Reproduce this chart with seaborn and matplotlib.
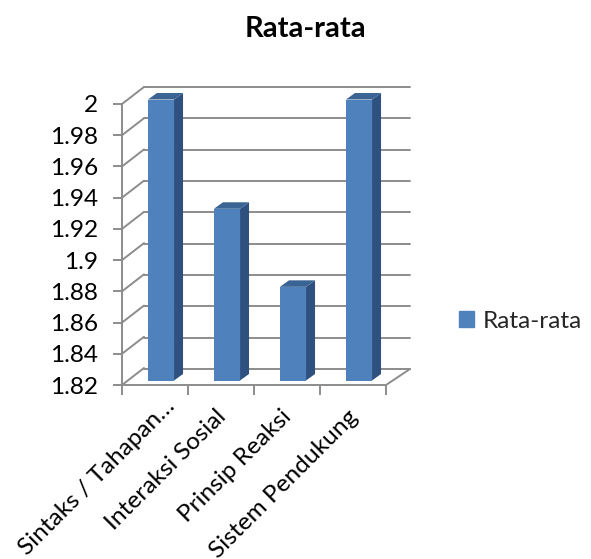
import matplotlib
matplotlib.use("Agg")
import matplotlib.pyplot as plt
import numpy as np
import pandas as pd
import seaborn as sns
from matplotlib.patches import Polygon, Patch

categories = ["Sintaks / Tahapan…", "Interaksi Sosial", "Prinsip Reaksi", "Sistem Pendukung"]
values = [2.0, 1.93, 1.88, 2.0]
y_ticks = [1.82, 1.84, 1.86, 1.88, 1.9, 1.92, 1.94, 1.96, 1.98, 2]
y_tick_labels = ["1.82", "1.84", "1.86", "1.88", "1.9", "1.92", "1.94", "1.96", "1.98", "2"]
series_name = "Rata-rata"

W, H = 591, 559
FONT = "Lato"
GRID = "#8c8c8c"
FACE = "#4f81bd"
SIDE = "#2f5180"
TOP = "#3a6494"
LINE = 1.4
LABEL_SIZE = 17.6

sns.set_theme(style="white")
plt.rcParams["font.family"] = [FONT, "DejaVu Sans"]

fig = plt.figure(figsize=(W / 100, H / 100), dpi=100, facecolor="white")


def plane_axes(left, top, right, bottom, **kw):
    """Axes placed by pixel edges, sharing one value and category scale."""
    a = fig.add_axes([left / W, 1 - bottom / H, (right - left) / W, (bottom - top) / H], **kw)
    a.set_xlim(-0.5, len(categories) - 0.5)
    a.set_ylim(y_ticks[0], y_ticks[-1])
    a.patch.set_alpha(0)
    return a


# Front plane: holds the axis lines and tick labels
L, T, R, B = 122, 104, 386, 385
ax = plane_axes(L, T, R, B, zorder=2)
px_x = len(categories) / (R - L)
px_y = (y_ticks[-1] - y_ticks[0]) / (B - T)

# Back wall carrying the horizontal gridlines
wall = plane_axes(L + 22, T - 17, R + 24, B - 16, zorder=1)
wall.set_xticks([])
wall.set_yticks(y_ticks)
wall.tick_params(left=False, labelleft=False)
wall.grid(True, axis="y", color=GRID, lw=LINE, clip_on=False)
for s in wall.spines.values():
    s.set_visible(False)

# Slanted lines joining the front axis to the wall
x0, x1 = ax.get_xlim()
for v in y_ticks:
    ax.plot([x0, x0 + 22 * px_x], [v, v + 17 * px_y], color=GRID, lw=LINE, clip_on=False,
            solid_capstyle="round")
ax.plot([x1, x1 + 24 * px_x], [y_ticks[0], y_ticks[0] + 16 * px_y], color=GRID, lw=LINE,
        clip_on=False, solid_capstyle="round")

ax.set_yticks(y_ticks)
ax.set_yticklabels(y_tick_labels, fontsize=LABEL_SIZE, color="black")
ax.set_xticks(np.arange(len(categories) + 1) - 0.5)
ax.set_xticklabels([])
ax.tick_params(axis="y", which="major", length=6.5, width=LINE, color=GRID, left=True, pad=11)
ax.tick_params(axis="x", which="major", length=7, width=LINE, color=GRID, bottom=True)
for name in ("top", "right"):
    ax.spines[name].set_visible(False)
for name in ("left", "bottom"):
    ax.spines[name].set_color(GRID)
    ax.spines[name].set_linewidth(LINE)

# Category names hang at 45 degrees below each slot; the shortened first name sits higher
for i, name in enumerate(categories):
    offset = (9, -10) if name.endswith("…") else (-6, -21)
    ax.annotate(name, xy=(i, y_ticks[0]), xytext=offset, textcoords="offset pixels",
                rotation=45, ha="right", va="top", rotation_mode="anchor",
                fontsize=LABEL_SIZE, color="black", annotation_clip=False)

# Bar plane sits a little behind the front axis
bars = plane_axes(L + 6, T - 4.5, R + 6, B - 4.5, zorder=3)
df = pd.DataFrame({"category": categories, "value": values})
sns.barplot(data=df, x="category", y="value", color=FACE, saturation=1, width=0.395, ax=bars,
            edgecolor="none", linewidth=0)
bars.set_xlim(-0.5, len(categories) - 0.5)
bars.set_ylim(y_ticks[0], y_ticks[-1])
bars.axis("off")

# Depth faces on each bar
dx, dy = 9 * px_x, 6.5 * px_y
for p, v in list(zip(bars.patches, values)):
    a, b = p.get_x(), p.get_x() + p.get_width()
    base = y_ticks[0]
    bars.add_patch(Polygon([(b, base), (b + dx, base + dy), (b + dx, v + dy), (b, v)],
                           closed=True, fc=SIDE, ec="none", clip_on=False))
    bars.add_patch(Polygon([(a, v), (a + dx, v + dy), (b + dx, v + dy), (b, v)],
                           closed=True, fc=TOP, ec="none", clip_on=False))

fig.text(305 / W, 1 - 29 / H, series_name, fontsize=21, fontweight="bold", ha="center",
         va="center", color="black")

fig.legend(handles=[Patch(color=FACE, label=series_name)], loc="center left",
           bbox_to_anchor=(459 / W, 1 - 321 / H), frameon=False, fontsize=LABEL_SIZE,
           handlelength=0.62, handleheight=0.62, handletextpad=0.36, borderpad=0,
           borderaxespad=0)

fig.savefig("out.png", dpi=100, facecolor="white")
